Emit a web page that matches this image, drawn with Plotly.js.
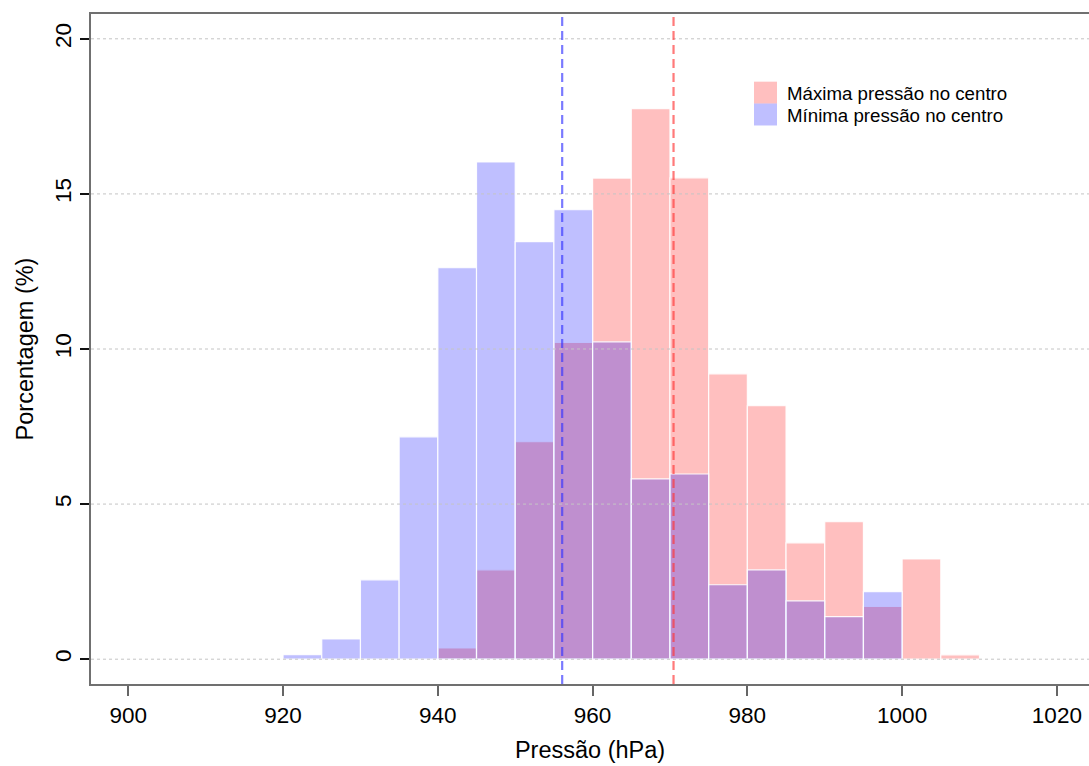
<!DOCTYPE html>
<html>
<head>
<meta charset="utf-8">
<script src="https://cdn.plot.ly/plotly-3.0.1.min.js"></script>
<style>html,body{margin:0;padding:0;background:#fff;overflow:hidden}</style>
</head>
<body>
<div id="chart" style="width:1089px;height:766px"></div>
<script>
// Bin left edges (hPa), bin width 5
var binWidth = 5;
var minBinStart = [920, 925, 930, 935, 940, 945, 950, 955, 960, 965, 970, 975, 980, 985, 990, 995];
var minPercent  = [0.15, 0.65, 2.56, 7.17, 12.62, 16.03, 13.46, 14.49, 10.23, 5.81, 5.97, 2.40, 2.88, 1.88, 1.37, 2.18];
var maxBinStart = [940, 945, 950, 955, 960, 965, 970, 975, 980, 985, 990, 995, 1000, 1005];
var maxPercent  = [0.36, 2.88, 7.01, 10.21, 15.51, 17.75, 15.52, 9.20, 8.17, 3.75, 4.43, 1.70, 3.23, 0.14];
var meanMax = 970.46;
var meanMin = 956.07;
var xTicks = [900, 920, 940, 960, 980, 1000, 1020];
var yTicks = [0, 5, 10, 15, 20];
var legendLabels = ["Máxima pressão no centro", "Mínima pressão no centro"];

var redFill = "rgba(255,0,0,0.25)";
var blueFill = "rgba(0,0,255,0.25)";
var FONT = "Liberation Sans, Arial, sans-serif";

var traces = [
  {type: "bar", x: maxBinStart, y: maxPercent, width: binWidth, offset: 0,
   marker: {color: redFill, line: {color: "rgba(255,255,255,0.9)", width: 1.2}},
   name: legendLabels[0], hoverinfo: "x+y"},
  {type: "bar", x: minBinStart, y: minPercent, width: binWidth, offset: 0,
   marker: {color: blueFill, line: {color: "rgba(255,255,255,0.9)", width: 1.2}},
   name: legendLabels[1], hoverinfo: "x+y"}
];

var shapes = [];
yTicks.forEach(function (v) {
  shapes.push({type: "line", xref: "paper", x0: 0, x1: 1, yref: "y", y0: v, y1: v,
    line: {color: "#c4c4c4", width: 1, dash: "dot"}, layer: "above"});
});
shapes.push({type: "line", xref: "x", x0: meanMin, x1: meanMin, yref: "paper", y0: 0, y1: 1,
  line: {color: "rgba(50,50,255,0.65)", width: 2.2, dash: "9px,5px"}, layer: "above"});
shapes.push({type: "line", xref: "x", x0: meanMax, x1: meanMax, yref: "paper", y0: 0, y1: 1,
  line: {color: "rgba(255,50,50,0.65)", width: 2.2, dash: "9px,5px"}, layer: "above"});
// legend swatches
shapes.push({type: "rect", xref: "paper", yref: "paper", x0: 0.6643, x1: 0.6874, y0: 0.8664, y1: 0.899,
  fillcolor: redFill, line: {width: 0}, layer: "above"});
shapes.push({type: "rect", xref: "paper", yref: "paper", x0: 0.6643, x1: 0.6874, y0: 0.8336, y1: 0.8664,
  fillcolor: blueFill, line: {width: 0}, layer: "above"});

var annotations = [
  {xref: "paper", yref: "paper", x: 0.6954, y: 0.8815, xanchor: "left", yanchor: "middle",
   text: legendLabels[0], showarrow: false, font: {family: FONT, size: 18.7, color: "#000"}},
  {xref: "paper", yref: "paper", x: 0.6954, y: 0.8488, xanchor: "left", yanchor: "middle",
   text: legendLabels[1], showarrow: false, font: {family: FONT, size: 18.7, color: "#000"}}
];

var layout = {
  width: 1089, height: 766,
  margin: {l: 91, r: 0, t: 14, b: 82, pad: 0},
  paper_bgcolor: "#fff", plot_bgcolor: "#fff",
  barmode: "overlay", bargap: 0,
  showlegend: false,
  font: {family: FONT, color: "#000"},
  xaxis: {
    range: [895.18, 1024.15], tickvals: xTicks, ticktext: xTicks.map(String),
    ticks: "outside", ticklen: 10, tickwidth: 2, tickcolor: "#666",
    showline: true, mirror: true, linecolor: "#707070", linewidth: 2,
    showgrid: false, zeroline: false,
    tickfont: {family: FONT, size: 22.5, color: "#000"},
    title: {text: "Pressão (hPa)", font: {family: FONT, size: 23.5, color: "#000"}, standoff: 15}
  },
  yaxis: {
    range: [-0.8, 20.8], tickvals: yTicks, ticktext: yTicks.map(String),
    ticks: "outside", ticklen: 9, tickwidth: 2, tickcolor: "#111",
    tickangle: -90,
    showline: true, mirror: false, linecolor: "#707070", linewidth: 2,
    showgrid: false, zeroline: false,
    tickfont: {family: FONT, size: 22.5, color: "#000"},
    title: {text: "Porcentagem (%)", font: {family: FONT, size: 23.5, color: "#000"}, standoff: 11}
  },
  shapes: shapes,
  annotations: annotations
};

Plotly.newPlot("chart", traces, layout, {displayModeBar: false, staticPlot: true});
</script>
</body>
</html>
